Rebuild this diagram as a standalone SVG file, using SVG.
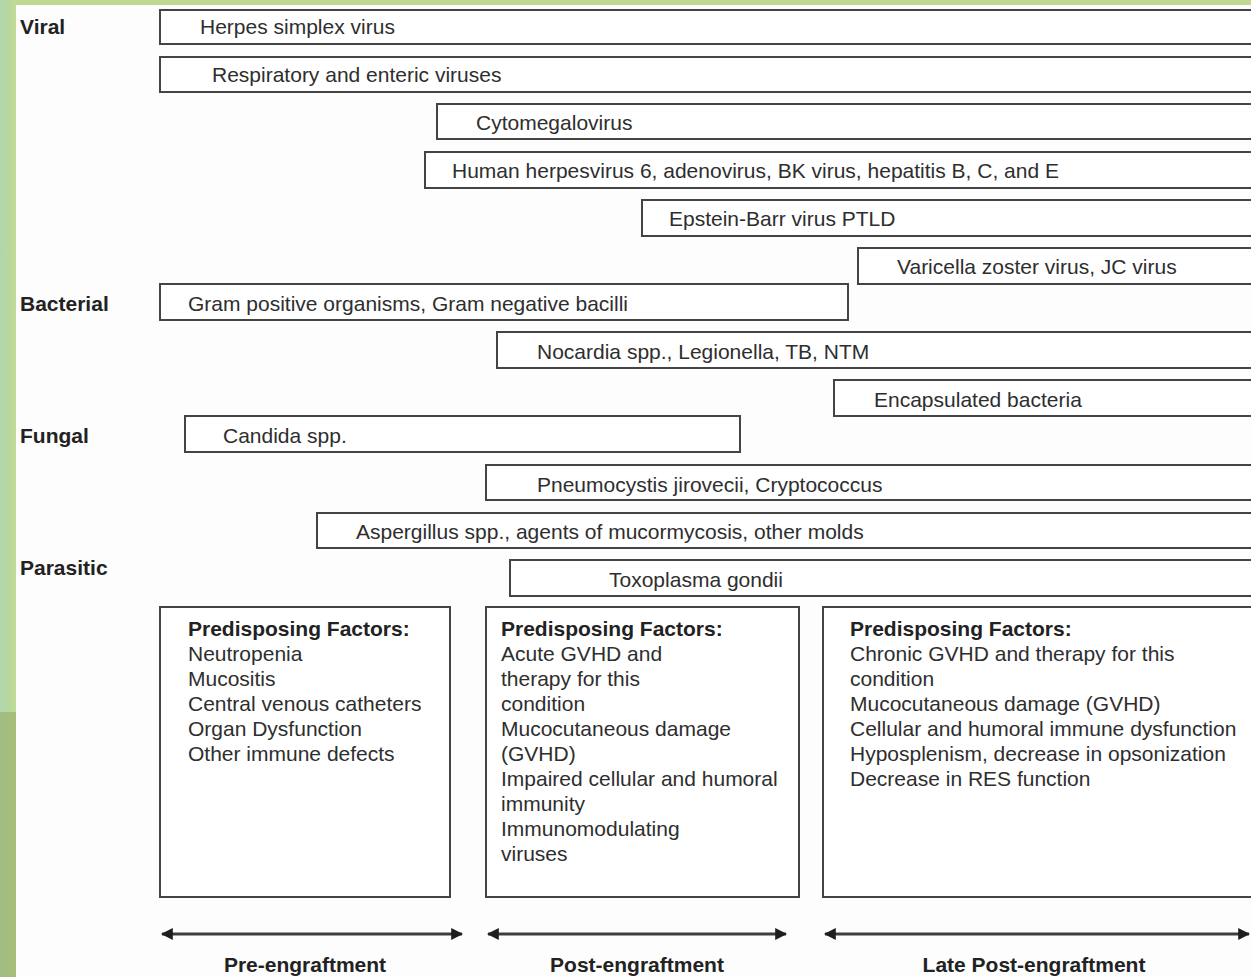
<svg xmlns="http://www.w3.org/2000/svg" width="1251" height="977" viewBox="0 0 1251 977">
  <defs>
    <style>
      .bar { fill: #ffffff; stroke: #444444; stroke-width: 2; }
      .t { font-family: "Liberation Sans", Arial, sans-serif; font-size: 21px; fill: #2e2e2e; }
      .b { font-family: "Liberation Sans", Arial, sans-serif; font-size: 21px; font-weight: bold; fill: #222222; }
      .axis { stroke: #3e3e3e; stroke-width: 3; fill: none; }
    </style>
    <linearGradient id="edgeTop" x1="0" y1="0" x2="1" y2="0">
      <stop offset="0" stop-color="#b2d6ac"/>
      <stop offset="0.55" stop-color="#b6d89e"/>
      <stop offset="1" stop-color="#c2da90"/>
    </linearGradient>
    <linearGradient id="edgeLow" x1="0" y1="0" x2="1" y2="0">
      <stop offset="0" stop-color="#a0bc84"/>
      <stop offset="1" stop-color="#a8be78"/>
    </linearGradient>
    <marker id="head" viewBox="0 0 10 10" refX="9" refY="5" markerWidth="4" markerHeight="4" orient="auto-start-reverse" markerUnits="strokeWidth">
      <path d="M0,0 L10,5 L0,10 z" fill="#1e1e1e"/>
    </marker>
  </defs>

  <!-- page background and green frame -->
  <rect x="0" y="0" width="1251" height="977" fill="#fdfdfd"/>
  <rect x="0" y="0" width="1251" height="5" fill="#c0d894"/>
  <rect x="0" y="0" width="16" height="712" fill="url(#edgeTop)"/>
  <rect x="0" y="712" width="16" height="265" fill="url(#edgeLow)"/>

  <!-- pathogen category labels -->
  <g id="categories">
    <text class="b" x="20" y="34">Viral</text>
    <text class="b" x="20" y="311">Bacterial</text>
    <text class="b" x="20" y="443">Fungal</text>
    <text class="b" x="20" y="575">Parasitic</text>
  </g>

  <!-- viral -->
  <g id="hsv"><rect class="bar" x="160" y="10" width="1100" height="34"/><text class="t" x="200" y="34">Herpes simplex virus</text></g>
  <g id="resp"><rect class="bar" x="160" y="57" width="1100" height="35"/><text class="t" x="212" y="82">Respiratory and enteric viruses</text></g>
  <g id="cmv"><rect class="bar" x="437" y="104" width="823" height="35"/><text class="t" x="476" y="130">Cytomegalovirus</text></g>
  <g id="hhv6"><rect class="bar" x="425" y="152" width="835" height="36"/><text class="t" x="452" y="178">Human herpesvirus 6, adenovirus, BK virus, hepatitis B, C, and E</text></g>
  <g id="ebv"><rect class="bar" x="642" y="200" width="618" height="36"/><text class="t" x="669" y="226">Epstein-Barr virus PTLD</text></g>
  <g id="vzv"><rect class="bar" x="858" y="248" width="402" height="36"/><text class="t" x="897" y="274">Varicella zoster virus, JC virus</text></g>

  <!-- bacterial -->
  <g id="gram"><rect class="bar" x="160" y="284" width="688" height="36"/><text class="t" x="188" y="311">Gram positive organisms, Gram negative bacilli</text></g>
  <g id="nocardia"><rect class="bar" x="497" y="332" width="763" height="36"/><text class="t" x="537" y="359">Nocardia spp., Legionella, TB, NTM</text></g>
  <g id="encap"><rect class="bar" x="834" y="380" width="426" height="36"/><text class="t" x="874" y="407">Encapsulated bacteria</text></g>

  <!-- fungal -->
  <g id="candida"><rect class="bar" x="185" y="416" width="555" height="36"/><text class="t" x="223" y="443">Candida spp.</text></g>
  <g id="pneumo"><rect class="bar" x="486" y="465" width="774" height="35"/><text class="t" x="537" y="492">Pneumocystis jirovecii, Cryptococcus</text></g>
  <g id="asperg"><rect class="bar" x="317" y="513" width="943" height="35"/><text class="t" x="356" y="539">Aspergillus spp., agents of mucormycosis, other molds</text></g>

  <!-- parasitic -->
  <g id="toxo"><rect class="bar" x="510" y="560" width="750" height="36"/><text class="t" x="609" y="587">Toxoplasma gondii</text></g>

  <!-- predisposing factors per phase -->
  <g id="factors-pre">
    <rect class="bar" x="160" y="607" width="290" height="290"/>
    <text class="b" x="188" y="636">Predisposing Factors:</text>
    <text class="t" x="188" y="661">Neutropenia</text>
    <text class="t" x="188" y="686">Mucositis</text>
    <text class="t" x="188" y="711">Central venous catheters</text>
    <text class="t" x="188" y="736">Organ Dysfunction</text>
    <text class="t" x="188" y="761">Other immune defects</text>
  </g>
  <g id="factors-post">
    <rect class="bar" x="486" y="607" width="313" height="290"/>
    <text class="b" x="501" y="636">Predisposing Factors:</text>
    <text class="t" x="501" y="661">Acute GVHD and</text>
    <text class="t" x="501" y="686">therapy for this</text>
    <text class="t" x="501" y="711">condition</text>
    <text class="t" x="501" y="736">Mucocutaneous damage</text>
    <text class="t" x="501" y="761">(GVHD)</text>
    <text class="t" x="501" y="786">Impaired cellular and humoral</text>
    <text class="t" x="501" y="811">immunity</text>
    <text class="t" x="501" y="836">Immunomodulating</text>
    <text class="t" x="501" y="861">viruses</text>
  </g>
  <g id="factors-late">
    <rect class="bar" x="823" y="607" width="437" height="290"/>
    <text class="b" x="850" y="636">Predisposing Factors:</text>
    <text class="t" x="850" y="661">Chronic GVHD and therapy for this</text>
    <text class="t" x="850" y="686">condition</text>
    <text class="t" x="850" y="711">Mucocutaneous damage (GVHD)</text>
    <text class="t" x="850" y="736">Cellular and humoral immune dysfunction</text>
    <text class="t" x="850" y="761">Hyposplenism, decrease in opsonization</text>
    <text class="t" x="850" y="786">Decrease in RES function</text>
  </g>

  <!-- phase timeline arrows -->
  <g id="connectors">
    <line class="axis" x1="162" y1="934" x2="462" y2="934" marker-start="url(#head)" marker-end="url(#head)"/>
    <line class="axis" x1="488" y1="934" x2="786" y2="934" marker-start="url(#head)" marker-end="url(#head)"/>
    <line class="axis" x1="825" y1="934" x2="1249" y2="934" marker-start="url(#head)" marker-end="url(#head)"/>
  </g>

  <g id="phases">
    <text class="b" x="305" y="972" text-anchor="middle">Pre-engraftment</text>
    <text class="b" x="637" y="972" text-anchor="middle">Post-engraftment</text>
    <text class="b" x="1034" y="972" text-anchor="middle">Late Post-engraftment</text>
  </g>
</svg>
